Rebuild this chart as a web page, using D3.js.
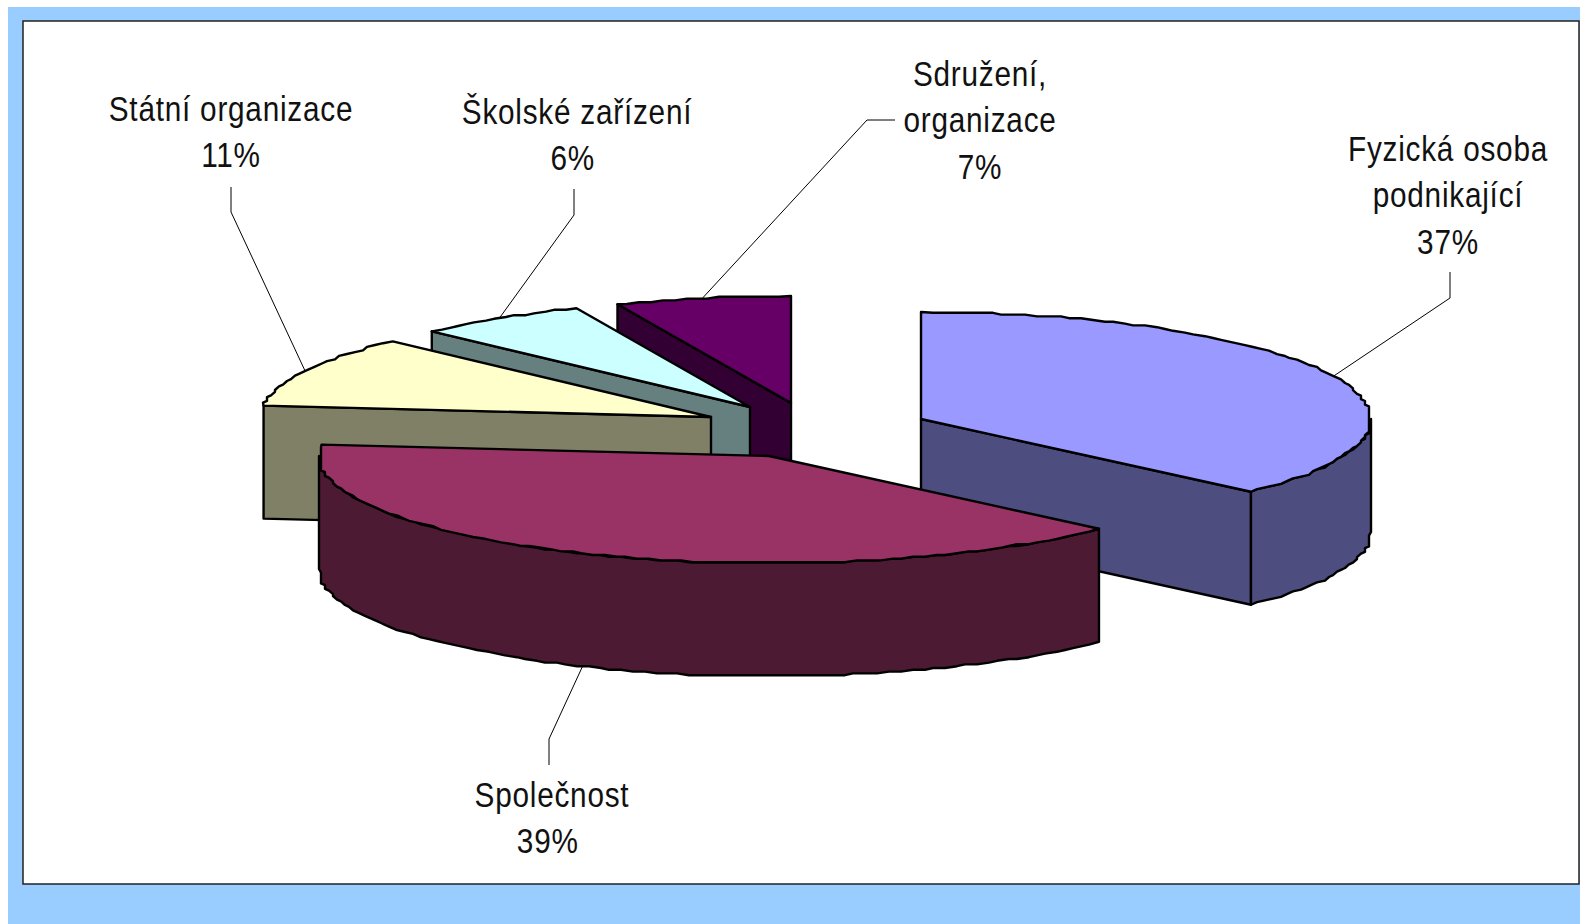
<!DOCTYPE html>
<html lang="cs">
<head>
<meta charset="UTF-8">
<title>Právní forma</title>
<script src="https://d3js.org/d3.v7.min.js"></script>
<style>
  body { margin: 0; background: #fff; }
  svg { display: block; }
  .label { font-family: "Liberation Sans", Arial, sans-serif; font-size: 35px; letter-spacing: 0.9px; fill: #111; text-anchor: middle; }
  .leader { fill: none; stroke: #000; stroke-width: 1; }
  .face { stroke: #000; stroke-width: 2.4; stroke-linejoin: round; }
</style>
</head>
<body>
<div id="chart"></div>
<script>
const categories = ["Fyzická osoba podnikající", "Společnost", "Státní organizace", "Školské zařízení", "Sdružení, organizace"];
// slice sizes estimated from the drawn arcs, the printed percentages are kept apart
const shares = [36.9, 39.8, 10.8, 6.2, 6.3];
const percents = ["37%", "39%", "11%", "6%", "7%"];
const labelLines = [
  ["Fyzická osoba", "podnikající"],
  ["Společnost"],
  ["Státní organizace"],
  ["Školské zařízení"],
  ["Sdružení,", "organizace"]
];
const topColors = ["#9999FF", "#993366", "#FFFFCC", "#CCFFFF", "#660066"];

const width = 1580, height = 924;
const rx = 450, ry = 107, depth = 113;

// each slice is pulled out of the pie, so it has its own centre
const centers = [[921, 419], [769, 456], [711, 417], [750, 407], [791, 403]];
// label centre x, first baseline, then the leader elbow and its end by the text
const labelPos = [
  { x: 1448, y: 161, elbow: [1450, 298], start: [1450, 272], pctShift: 0 },
  { x: 552, y: 807, elbow: [549, 739], start: [549, 765], pctShift: -5 },
  { x: 231, y: 121, elbow: [231, 212], start: [231, 187], pctShift: 0 },
  { x: 577, y: 124, elbow: [574, 215], start: [574, 189], pctShift: -5 },
  { x: 980, y: 86, elbow: [867, 120], start: [895, 120], pctShift: 0 }
];
// the pie is painted from the back to the front
const drawOrder = [4, 3, 2, 0, 1];

const svg = d3.select("#chart").append("svg").attr("width", width).attr("height", height);

svg.append("rect").attr("x", 8).attr("y", 7).attr("width", width - 8).attr("height", height - 7).attr("fill", "#99CCFF");
svg.append("rect").attr("x", 23).attr("y", 21).attr("width", 1556).attr("height", 863)
  .attr("fill", "#fff").attr("stroke", "#222").attr("stroke-width", 1.5);

const pie = d3.pie().sort(null).value(d => d)(shares);
const line = d3.line();

function rim(c, a, dy) {
  return [c[0] + rx * Math.sin(a), c[1] - ry * Math.cos(a) + (dy || 0)];
}

// outline of the old chart is coarse, so snap the arc to a rough grid
function arcPoints(c, a0, a1, dy) {
  const n = Math.max(1, Math.round((a1 - a0) / (1.5 * Math.PI / 180)));
  const pts = [];
  for (let i = 0; i <= n; i++) {
    const p = rim(c, a0 + (a1 - a0) * i / n, dy);
    if (i === 0 || i === n) { pts.push(p); continue; }
    pts.push([c[0] + Math.round((p[0] - c[0]) / 4) * 4, c[1] + Math.round((p[1] - c[1] - (dy || 0)) / 1.8) * 1.8 + (dy || 0)]);
  }
  return pts;
}

drawOrder.forEach(i => {
  const d = pie[i], c = centers[i];
  const g = svg.append("g");
  const top = d3.color(topColors[i]);
  const side = d3.rgb(top.r / 2, top.g / 2, top.b / 2).formatHex();

  // radial walls that face the viewer
  if (Math.sin(d.startAngle) < -1e-6) {
    const p = rim(c, d.startAngle);
    g.append("path").attr("class", "face").attr("fill", side)
      .attr("d", line([c, p, [p[0], p[1] + depth], [c[0], c[1] + depth]]) + "Z");
  }
  if (Math.sin(d.endAngle) > 1e-6) {
    const p = rim(c, d.endAngle);
    g.append("path").attr("class", "face").attr("fill", side)
      .attr("d", line([c, p, [p[0], p[1] + depth], [c[0], c[1] + depth]]) + "Z");
  }

  // outer wall, only the front half of the ellipse shows
  const a0 = Math.max(d.startAngle, Math.PI / 2), a1 = Math.min(d.endAngle, 3 * Math.PI / 2);
  if (a1 > a0) {
    const up = arcPoints(c, a0, a1, 0);
    const down = arcPoints(c, a0, a1, depth).reverse();
    g.append("path").attr("class", "face").attr("fill", side).attr("d", line(up.concat(down)) + "Z");
  }

  // top face
  g.append("path").attr("class", "face").attr("fill", topColors[i])
    .attr("d", line([c].concat(arcPoints(c, d.startAngle, d.endAngle, 0))) + "Z");
});

// leaders and labels
pie.forEach((d, i) => {
  const mid = (d.startAngle + d.endAngle) / 2;
  const front = mid > Math.PI / 2 && mid < 3 * Math.PI / 2;
  const pos = labelPos[i];
  svg.append("path").attr("class", "leader")
    .attr("d", line([rim(centers[i], mid, front ? depth : 0), pos.elbow, pos.start]));

  const lines = labelLines[i].concat(percents[i]);
  const t = svg.append("text").attr("class", "label")
    .attr("transform", "translate(" + pos.x + "," + pos.y + ") scale(0.85,1)")
    .attr("aria-label", categories[i]);
  lines.forEach((s, k) => {
    const isPct = k === lines.length - 1;
    t.append("tspan").attr("x", isPct ? pos.pctShift : 0).attr("y", k * 46.5).text(s);
  });
});
</script>
</body>
</html>
